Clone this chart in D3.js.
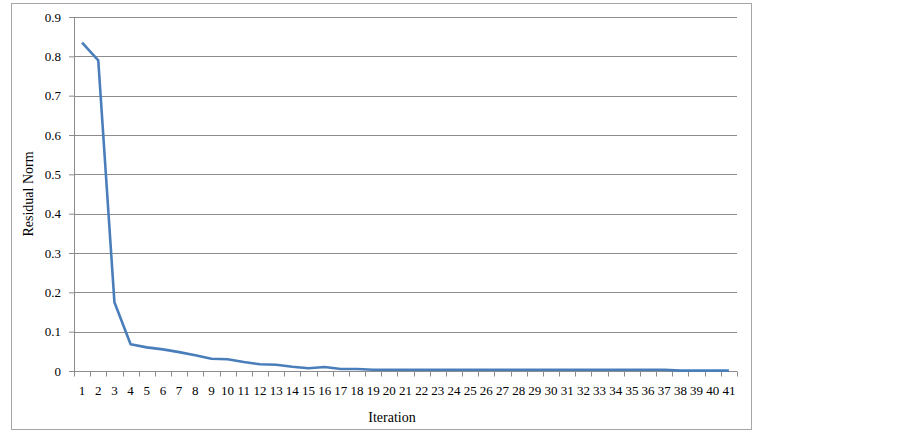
<!DOCTYPE html>
<html>
<head>
<meta charset="utf-8">
<script src="https://cdn.jsdelivr.net/npm/d3@7"></script>
<style>
  body { margin: 0; background: #fff; }
  svg text { font-family: "Liberation Serif", "Times New Roman", serif; fill: #000; }
</style>
</head>
<body>
<div id="chart"></div>
<script>
// iterations 1..41
var iterations = d3.range(1, 42);
var residual = [0.835, 0.79, 0.175, 0.068, 0.06, 0.055, 0.048, 0.04, 0.031, 0.03,
  0.023, 0.017, 0.016, 0.011, 0.007, 0.01, 0.005, 0.005, 0.003, 0.003,
  0.003, 0.003, 0.003, 0.003, 0.003, 0.003, 0.003, 0.003, 0.003, 0.003,
  0.003, 0.003, 0.003, 0.003, 0.003, 0.003, 0.003, 0.001, 0.001, 0.001, 0.001];
var yTicks = [0, 0.1, 0.2, 0.3, 0.4, 0.5, 0.6, 0.7, 0.8, 0.9];

var W = 902, H = 433;
var margin = {top: 17, right: 165, bottom: 62, left: 74},
    width = W - margin.left - margin.right,
    height = H - margin.top - margin.bottom;

var svg = d3.select("#chart").append("svg")
    .attr("width", W)
    .attr("height", H);

// outer chart border
svg.append("rect")
    .attr("x", 11.5).attr("y", 3.5)
    .attr("width", 740).attr("height", 426)
    .attr("fill", "none")
    .attr("stroke", "#a6a6a6");

var g = svg.append("g")
    .attr("transform", "translate(" + margin.left + "," + margin.top + ")");

var x = d3.scaleBand()
    .domain(iterations)
    .range([0, width]);

var y = d3.scaleLinear()
    .domain([0, 0.9])
    .range([height, 0]);

// gridlines
g.selectAll(".grid")
    .data(yTicks.slice(1))
  .enter().append("line")
    .attr("x1", 0).attr("x2", width)
    .attr("y1", function(d) { return Math.round(y(d)) + 0.5; })
    .attr("y2", function(d) { return Math.round(y(d)) + 0.5; })
    .attr("stroke", "#8c8c8c")
    .attr("stroke-width", 1);

// y axis
var yAxis = g.append("g")
    .call(d3.axisLeft(y).tickValues(yTicks).tickSize(5).tickPadding(8)
      .tickFormat(function(d) { return d === 0 ? "0" : d3.format(".1f")(d); }));
yAxis.select(".domain").attr("stroke", "#8c8c8c").attr("d", "M0.5,0V" + height);
yAxis.selectAll(".tick line").attr("stroke", "#8c8c8c");
yAxis.selectAll("text").style("font-size", "13px");

// x axis with ticks at category boundaries
var xAxis = g.append("g")
    .attr("transform", "translate(0," + (Math.round(height) + 0.5) + ")")
    .call(d3.axisBottom(x).tickSize(0).tickPadding(14));
xAxis.select(".domain").attr("stroke", "#8c8c8c").attr("d", "M0,0H" + width);
xAxis.selectAll("text").style("font-size", "13px");
xAxis.selectAll(".bound")
    .data(iterations.concat([42]))
  .enter().append("line")
    .attr("class", "bound")
    .attr("x1", function(d, i) { return Math.round(i * x.step()) + 0.5; })
    .attr("x2", function(d, i) { return Math.round(i * x.step()) + 0.5; })
    .attr("y1", 0).attr("y2", 5)
    .attr("stroke", "#8c8c8c");

// line
var line = d3.line()
    .x(function(d, i) { return x(iterations[i]) + x.bandwidth() / 2; })
    .y(function(d) { return y(d); });

g.append("path")
    .datum(residual)
    .attr("d", line)
    .attr("fill", "none")
    .attr("stroke", "#4a7ebb")
    .attr("stroke-width", 2.6)
    .attr("stroke-linejoin", "round");

// axis titles
svg.append("text")
    .attr("transform", "translate(33," + (margin.top + height / 2) + ") rotate(-90)")
    .attr("text-anchor", "middle")
    .style("font-size", "14px")
    .text("Residual Norm");

svg.append("text")
    .attr("x", 392)
    .attr("y", 422)
    .attr("text-anchor", "middle")
    .style("font-size", "14px")
    .text("Iteration");
</script>
</body>
</html>
